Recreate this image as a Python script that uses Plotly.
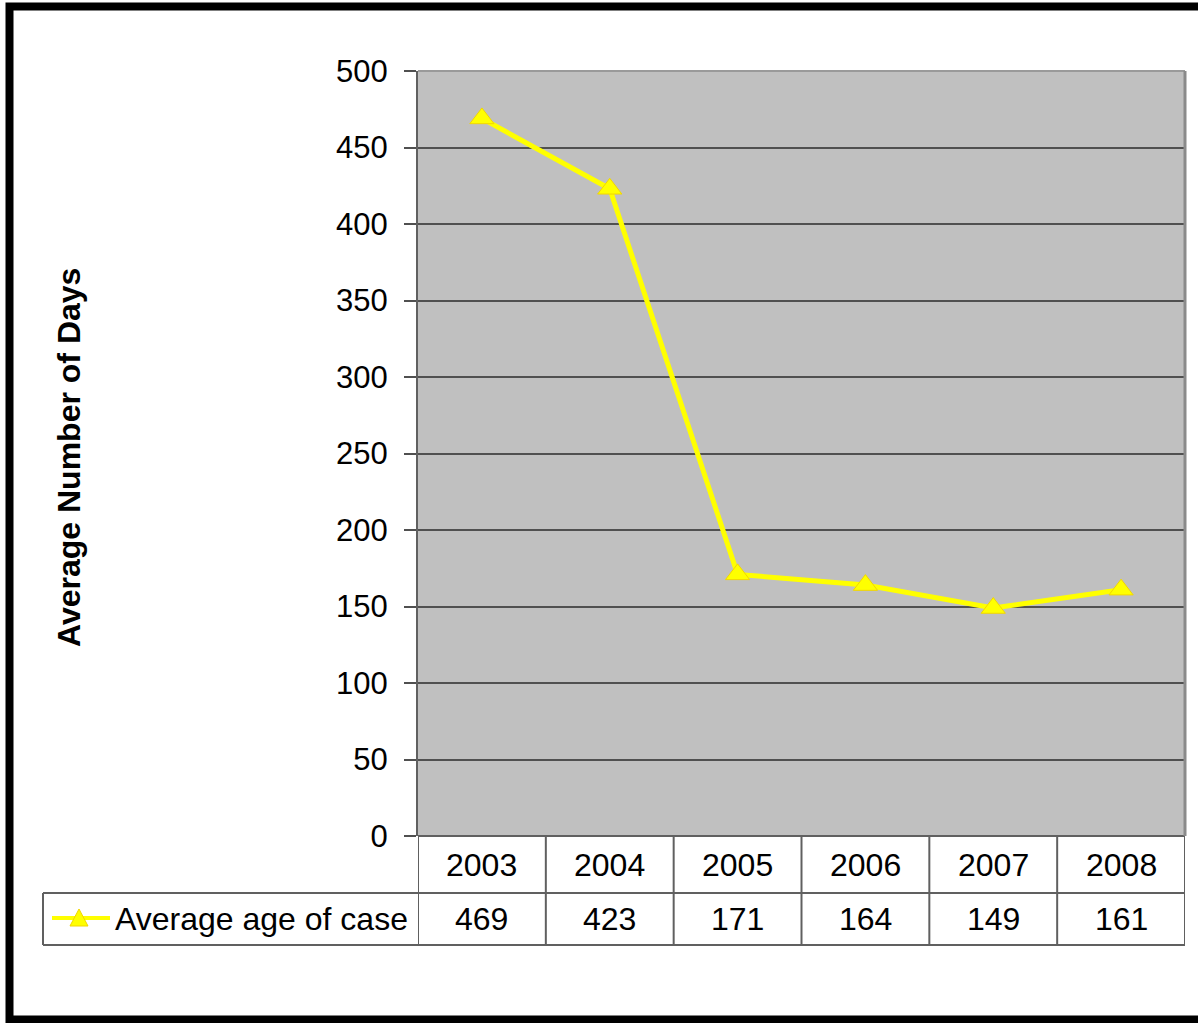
import plotly.graph_objects as go

# Average age of case by year
years = ["2003", "2004", "2005", "2006", "2007", "2008"]
avg_age = [469, 423, 171, 164, 149, 161]
series_name = "Average age of case"
y_ticks = list(range(0, 501, 50))

W, H = 1198, 1023
L, R, T, B = 418, 13, 71, 187
PW, PH = W - L - R, H - T - B

FONT = "Arial, Liberation Sans, sans-serif"
YELLOW = "#FFFF00"
GRID = "#505050"
TABLE = "#606060"


def px_x(X):
    return (X - L) / PW


def px_y(Y):
    return (H - B - Y) / PH


fig = go.Figure()
fig.add_trace(go.Scatter(
    x=list(range(len(years))), y=avg_age, mode="lines+markers",
    line=dict(color=YELLOW, width=5),
    marker=dict(symbol="triangle-up", size=21, color=YELLOW,
                line=dict(color="#F2D600", width=1)),
    name=series_name, showlegend=False, cliponaxis=False,
))

shapes = []
# data-table grid: column separators at category boundaries
row1 = px_y(893)
row2 = px_y(945)
for i in range(len(years) + 1):
    shapes.append(dict(type="line", xref="x", yref="paper",
                       x0=i - 0.5, x1=i - 0.5, y0=0, y1=row2,
                       line=dict(color=TABLE, width=2)))
shapes.append(dict(type="line", xref="paper", yref="paper",
                   x0=0, x1=1, y0=0, y1=0, line=dict(color=TABLE, width=2)))
for yy in (row1, row2):
    shapes.append(dict(type="line", xref="paper", yref="paper",
                       x0=px_x(43), x1=1, y0=yy, y1=yy,
                       line=dict(color=TABLE, width=2)))
shapes.append(dict(type="line", xref="paper", yref="paper",
                   x0=px_x(43), x1=px_x(43), y0=row1, y1=row2,
                   line=dict(color=TABLE, width=2)))
# legend key in the table
ky = px_y(918)
shapes.append(dict(type="line", xref="paper", yref="paper",
                   x0=px_x(52), x1=px_x(110), y0=ky, y1=ky,
                   line=dict(color=YELLOW, width=4)))
tri = "M {:.5f} {:.5f} L {:.5f} {:.5f} L {:.5f} {:.5f} Z".format(
    px_x(70), px_y(926), px_x(88), px_y(926), px_x(79), px_y(909))
shapes.append(dict(type="path", xref="paper", yref="paper", path=tri,
                   fillcolor=YELLOW, line=dict(color="#F2D600", width=1)))
# plot-area frame (top and right edges)
shapes.append(dict(type="line", xref="paper", yref="paper",
                   x0=0, x1=1, y0=1, y1=1, line=dict(color="#9a9a9a", width=2)))
shapes.append(dict(type="line", xref="paper", yref="paper",
                   x0=1, x1=1, y0=0, y1=1, line=dict(color="#8a8a8a", width=3)))
# outer frame
shapes.append(dict(type="rect", xref="paper", yref="paper",
                   x0=px_x(9.5), x1=px_x(1210), y0=px_y(6.5), y1=px_y(1019.5),
                   line=dict(color="black", width=8)))

annotations = []
hy = px_y(864.5)
vy = px_y(919)
tfont = dict(size=32, color="black", family=FONT)
for i, (yr, v) in enumerate(zip(years, avg_age)):
    annotations.append(dict(x=i, y=hy, xref="x", yref="paper", text=yr,
                            xanchor="center", yanchor="middle",
                            showarrow=False, font=tfont))
    annotations.append(dict(x=i, y=vy, xref="x", yref="paper", text=str(v),
                            xanchor="center", yanchor="middle",
                            showarrow=False, font=tfont))
annotations.append(dict(x=px_x(113), y=vy, xref="paper", yref="paper", text=series_name,
                        xanchor="left", yanchor="middle", showarrow=False, font=tfont))
annotations.append(dict(x=px_x(69), y=px_y(458), xref="paper", yref="paper",
                        text="<b>Average Number of Days</b>", textangle=-90,
                        xanchor="center", yanchor="middle",
                        showarrow=False, font=dict(size=32, color="black", family=FONT)))

fig.update_layout(
    width=W, height=H,
    margin=dict(l=L, r=R, t=T, b=B),
    paper_bgcolor="white", plot_bgcolor="#C0C0C0",
    shapes=shapes, annotations=annotations,
    xaxis=dict(range=[-0.5, len(years) - 0.5], showticklabels=False,
               showgrid=False, zeroline=False, ticks=""),
    yaxis=dict(range=[0, 500], tickvals=y_ticks, ticks="outside", ticklen=12,
               tickwidth=2, tickcolor=GRID, gridcolor=GRID, gridwidth=2,
               showline=True, linecolor=TABLE, linewidth=2, zeroline=False,
               ticklabelstandoff=10,
               tickfont=dict(size=31, color="black", family=FONT)),
)

fig.write_html("out.html")
